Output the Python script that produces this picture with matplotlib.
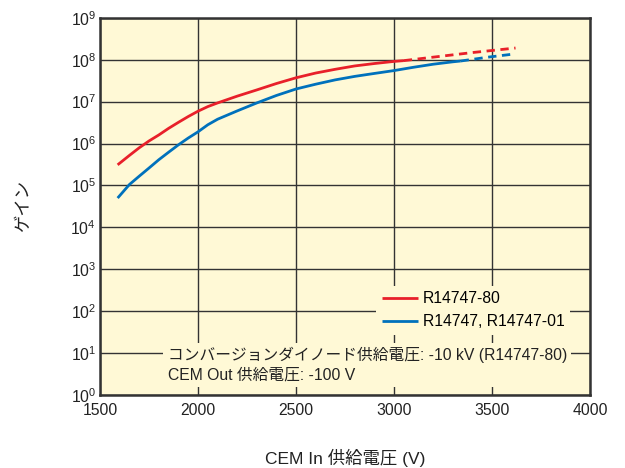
import matplotlib
matplotlib.use("Agg")
import matplotlib.pyplot as plt
import numpy as np

plt.rcParams['font.family'] = ['Liberation Sans', 'Noto Sans CJK JP', 'DejaVu Sans']

# R14747-80 (measured part, then extrapolated part)
red_v = [1590, 1650, 1700, 1750, 1800, 1850, 1900, 1950, 2000, 2050, 2100,
         2200, 2300, 2400, 2500, 2600, 2700, 2800, 2900, 3000, 3050]
red_gain = [3.1e5, 5.2e5, 7.9e5, 1.15e6, 1.6e6, 2.3e6, 3.2e6, 4.4e6, 5.9e6, 7.6e6, 9.3e6,
            1.35e7, 1.9e7, 2.7e7, 3.7e7, 4.8e7, 5.9e7, 7.1e7, 8.1e7, 9.1e7, 9.5e7]
red_v_ext = [3050, 3200, 3400, 3620]
red_gain_ext = [9.5e7, 1.15e8, 1.48e8, 1.9e8]

# R14747, R14747-01
blue_v = [1590, 1650, 1700, 1750, 1800, 1850, 1900, 1950, 2000, 2050, 2100,
          2200, 2300, 2400, 2500, 2600, 2700, 2800, 2900, 3000, 3100, 3200, 3300, 3340]
blue_gain = [5.0e4, 1.05e5, 1.66e5, 2.6e5, 4.1e5, 6.2e5, 9.3e5, 1.35e6, 1.9e6, 2.8e6, 3.8e6,
             6.0e6, 9.3e6, 1.4e7, 2.0e7, 2.6e7, 3.3e7, 4.0e7, 4.7e7, 5.5e7, 6.6e7, 7.8e7, 8.9e7, 9.3e7]
blue_v_ext = [3340, 3480, 3620]
blue_gain_ext = [9.3e7, 1.15e8, 1.38e8]

red = '#e8202a'
blue = '#0071bc'
bg = '#fff9d6'

fig = plt.figure(figsize=(6.25, 4.68), dpi=100)
ax = fig.add_axes([0.16, 0.156, 0.784, 0.806])
ax.set_facecolor(bg)

kw = dict(lw=2.0, solid_joinstyle='round', solid_capstyle='butt', zorder=3)
ax.plot(red_v, red_gain, color=red, label='R14747-80', **kw)
ax.plot(red_v_ext, red_gain_ext, color=red, ls=(0, (3, 2)), lw=2.0, zorder=3)
ax.plot(blue_v, blue_gain, color=blue, label='R14747, R14747-01', **kw)
ax.plot(blue_v_ext, blue_gain_ext, color=blue, ls=(0, (3, 2)), lw=2.0, zorder=3)

ax.set_yscale('log')
ax.set_xlim(1500, 4000)
ax.set_ylim(1, 1e9)
ax.set_xticks([1500, 2000, 2500, 3000, 3500, 4000])
ax.set_yticks([10.0**k for k in range(10)])
ax.minorticks_off()
ax.tick_params(length=0, labelsize=11.3, colors='#222222', pad=3)
ax.tick_params(axis='x', pad=6)
ax.grid(True, color='#333333', lw=1.0)
ax.set_axisbelow(True)
for s in ax.spines.values():
    s.set_color('#333333')
    s.set_linewidth(1.8)

leg = ax.legend(loc='lower right', bbox_to_anchor=(0.959, 0.16), frameon=True,
                fontsize=11.3, handlelength=2.3, handletextpad=0.3,
                borderpad=0.35, labelspacing=0.5, borderaxespad=0)
leg.get_frame().set_facecolor(bg)
leg.get_frame().set_edgecolor('none')
leg.get_frame().set_alpha(1)
leg.set_zorder(4)

ax.text(0.138, 0.08,
        'コンバージョンダイノード供給電圧: -10 kV (R14747-80)\nCEM Out 供給電圧: -100 V',
        transform=ax.transAxes, fontsize=11.3, color='#222222', ha='left', va='center',
        linespacing=1.35, zorder=4,
        bbox=dict(facecolor=bg, edgecolor='none', pad=3))

ax.set_ylabel('ゲイン', fontsize=12.5, color='#222222', labelpad=28)
ax.set_xlabel('CEM In 供給電圧 (V)', fontsize=12.5, color='#222222', labelpad=22)

fig.savefig('out.png', dpi=100)
